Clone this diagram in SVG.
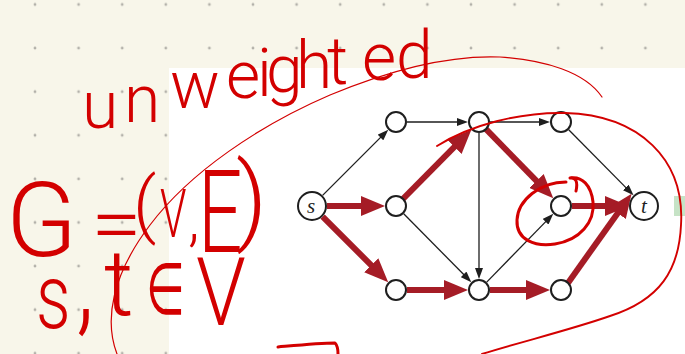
<svg xmlns="http://www.w3.org/2000/svg" width="685" height="354" viewBox="0 0 685 354">
<defs>
<pattern id="dots" x="13.2" y="-17.3" width="43.6" height="43.6" patternUnits="userSpaceOnUse">
<circle cx="21.8" cy="21.8" r="1.4" fill="#b3b1aa"/>
</pattern>
<marker id="ahRed" markerUnits="userSpaceOnUse" markerWidth="24" markerHeight="20" refX="8" refY="10" orient="auto" viewBox="0 0 24 20">
<path d="M0,0 L24,10 L0,20 z" fill="#a51c26"/>
</marker>
<marker id="ahBlack" markerUnits="userSpaceOnUse" markerWidth="11" markerHeight="8" refX="3" refY="4" orient="auto" viewBox="0 0 11 8">
<path d="M0,0 L11,4 L0,8 z" fill="#1e1e1e"/>
</marker>
<style>
.thin{stroke:#1e1e1e;stroke-width:1.3;fill:none;marker-end:url(#ahBlack)}
.thick{stroke:#a51c26;stroke-width:6;fill:none;marker-end:url(#ahRed)}
.node{fill:#fff;stroke:#1e1e1e;stroke-width:2}
.lbl{font-family:"Liberation Serif",serif;font-style:italic;font-size:21px;fill:#1e1e1e;text-anchor:middle}
.ink{fill:#d30000;font-family:Roboto,"Liberation Sans","DejaVu Sans",sans-serif;font-weight:300}
.inkline{fill:none;stroke:#d30000;stroke-linecap:round;stroke-linejoin:round}
</style>
</defs>
<rect x="0" y="0" width="685" height="354" fill="#f8f6ea"/>
<rect x="0" y="0" width="685" height="354" fill="url(#dots)"/>
<rect x="169" y="68" width="516" height="286" fill="#ffffff"/>
<rect x="674" y="196" width="11" height="20" fill="#c6e3c6"/>

<g id="edges">
<line class="thin" x1="322.6" y1="195.4" x2="382.6" y2="135.4"/>
<line class="thin" x1="407" y1="122" x2="460" y2="122"/>
<line class="thin" x1="490" y1="122" x2="542" y2="122"/>
<line class="thin" x1="568.7" y1="129.8" x2="627.9" y2="189.6"/>
<line class="thin" x1="479" y1="133" x2="479" y2="271"/>
<line class="thin" x1="403.7" y1="213.8" x2="465.7" y2="276.5"/>
<line class="thin" x1="486.7" y1="282.1" x2="547.7" y2="219.6"/>
<line class="thick" x1="327" y1="206" x2="369" y2="206"/>
<line class="thick" x1="322.6" y1="216.6" x2="376.9" y2="270.9"/>
<line class="thick" x1="403" y1="198.9" x2="460.1" y2="141.2"/>
<line class="thick" x1="486" y1="129.2" x2="542.1" y2="186.7"/>
<line class="thick" x1="407" y1="290" x2="452" y2="290"/>
<line class="thick" x1="490" y1="290" x2="534" y2="290"/>
<line class="thick" x1="572" y1="206" x2="613" y2="206"/>
<line class="thick" x1="568" y1="282.9" x2="622.3" y2="206.7"/>
</g>

<g id="node-s"><circle class="node" cx="312" cy="206" r="14"/><text class="lbl" x="311" y="213">s</text></g>
<g id="node-a"><circle class="node" cx="396" cy="122" r="10"/></g>
<g id="node-b"><circle class="node" cx="396" cy="206" r="10"/></g>
<g id="node-c"><circle class="node" cx="396" cy="290" r="10"/></g>
<g id="node-d"><circle class="node" cx="479" cy="122" r="10"/></g>
<g id="node-e"><circle class="node" cx="479" cy="290" r="10"/></g>
<g id="node-f"><circle class="node" cx="561" cy="122" r="10"/></g>
<g id="node-g"><circle class="node" cx="561" cy="206" r="10"/></g>
<g id="node-h"><circle class="node" cx="561" cy="290" r="10"/></g>
<g id="node-t"><circle class="node" cx="644" cy="206" r="14"/><text class="lbl" x="644" y="213">t</text></g>

<g id="annotations">
<path class="inkline" stroke-width="1.2" d="M117,354 C104,320 112,275 150,225 C190,172 260,125 330,95 C390,70 450,55 500,57 C545,60 585,72 602,97"/>
<path class="inkline" stroke-width="1.9" d="M437,146 C470,125 520,112 565,113 C640,115 685,160 681,225 C679,270 660,300 610,316 C570,330 520,342 482,354"/>
<path class="inkline" stroke-width="3" d="M566,182 C540,182 518,200 517,220 C516,240 535,247 555,244 C580,240 595,222 593,202 C591,185 582,176 570,178 M570,178 C576,177 578,182 576,191"/>
<path class="inkline" stroke-width="3" d="M278,347 C300,345 320,343 335,343 C338,346 338,350 338,354"/>

<text class="ink" font-size="66" x="82 124 170 226 257 266 296 327 362 396" y="128 122 108 98 96 92 88 84 80 78">unweighted</text>

<text class="ink" font-size="104" x="6" y="256">G</text>
<text class="ink" font-size="80" transform="translate(91,251) scale(1.15,1)">=</text>
<text class="ink" font-size="73" x="133" y="229">(</text>
<text class="ink" font-size="66" transform="translate(160,237) scale(0.65,1)">V</text>
<text class="ink" font-size="60" x="188" y="240">,</text>
<text class="ink" font-size="115" transform="translate(198,252) scale(0.68,1)">E</text>
<text class="ink" font-size="96" x="236" y="232">)</text>

<text class="ink" font-size="91" transform="translate(36,328) scale(0.75,1)">s</text>
<text class="ink" font-size="120" transform="translate(76,320) scale(0.8,1)">,</text>
<text class="ink" font-size="92" x="104" y="315">t</text>
<text class="ink" font-size="72" transform="translate(146,314) scale(0.62,1)">∈</text>
<text class="ink" font-size="95" transform="translate(196,325) scale(0.85,1)">V</text>
</g>
</svg>
